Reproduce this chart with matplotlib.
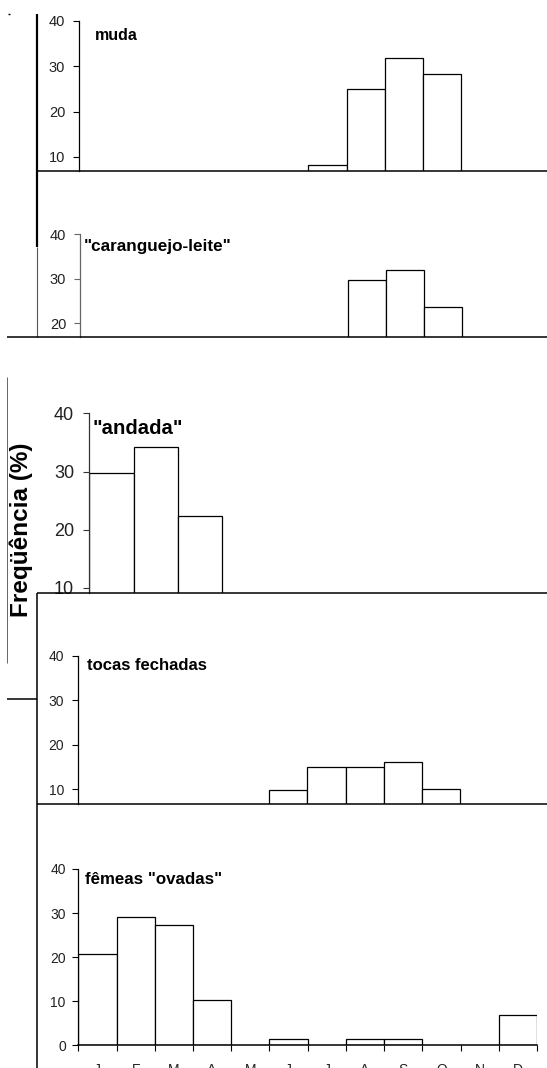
import numpy as np
import matplotlib
matplotlib.use("Agg")
import matplotlib.pyplot as plt
from matplotlib.lines import Line2D

# ---------------- data ----------------
months = ["J", "F", "M", "A", "M", "J", "J", "A", "S", "O", "N", "D"]
muda = [0, 0, 0, 0, 0, 0, 8.3, 24.9, 31.7, 28.3, 0, 0]
caranguejo_leite = [0, 0, 0, 0, 0, 0, 0, 29.8, 32.0, 23.6, 0, 0]
andada = [29.8, 34.2, 22.3, 0, 0, 0, 0, 0, 0, 0, 0, 0]
tocas_fechadas = [0, 0, 0, 0, 0, 9.9, 14.9, 14.9, 16.2, 10.0, 0, 0]
femeas_ovadas = [20.7, 29.2, 27.4, 10.2, 0, 1.5, 0, 1.5, 1.5, 0, 0, 6.8]

titles = ["muda", '"caranguejo-leite"', '"andada"', "tocas fechadas", 'fêmeas "ovadas"']

plt.rcParams['font.family'] = ['Liberation Sans', 'DejaVu Sans']

W, H = 547, 1068
fig = plt.figure(figsize=(W / 100, H / 100), dpi=100)
fig.patch.set_facecolor("white")


def px_axes(x0, y_top, x1, y_bot):
    return fig.add_axes([x0 / W, 1 - y_bot / H, (x1 - x0) / W, (y_bot - y_top) / H])


def fline(xs, ys, lw=1.1, color="black"):
    fig.add_artist(Line2D([x / W for x in xs], [1 - y / H for y in ys],
                          transform=fig.transFigure, lw=lw, color=color,
                          solid_capstyle="butt"))


def panel(vals, x0, mw, y_top, y_bot, ymin, yticks, tfs, pad, spine_color="black",
          zorder=1):
    ax = px_axes(x0, y_top, x0 + 12 * mw, y_bot)
    ax.set_zorder(zorder)
    ax.patch.set_alpha(0)
    x = np.arange(12)
    v = np.array(vals, dtype=float)
    m = v > 0
    ax.bar(x[m], v[m], width=1.0, align="edge", color="white",
           edgecolor="black", linewidth=0.9)
    ax.set_xlim(0, 12)
    ax.set_ylim(ymin, 40)
    for s in ["top", "right", "bottom"]:
        ax.spines[s].set_visible(False)
    ax.spines["left"].set_color(spine_color)
    ax.spines["left"].set_linewidth(0.9)
    ax.set_xticks([])
    ax.set_yticks(yticks)
    ax.tick_params(axis="y", length=4, width=0.8, pad=pad, labelsize=tfs,
                   colors="#222222")
    ax.tick_params(axis="y", color=spine_color)
    return ax


# muda
panel(muda, 78.5, 38.3, 20.7, 171.0, 6.9, [10, 20, 30, 40], 10.5, 5.5)
# caranguejo-leite
panel(caranguejo_leite, 79.5, 38.3, 234.3, 337.3, 16.85, [20, 30, 40], 10.5, 5.5,
      spine_color="#666666")
# andada
panel(andada, 89.3, 44.3, 413.3, 592.7, 9.18, [10, 20, 30, 40], 13, 7,
      spine_color="#333333")
# tocas fechadas
panel(tocas_fechadas, 77.5, 38.3, 655.7, 804.3, 6.6, [10, 20, 30, 40], 10, 5.5)
# femeas ovadas
ax = panel(femeas_ovadas, 78.3, 38.225, 869.0, 1045.3, 0, [0, 10, 20, 30, 40], 10, 5)
ax.spines["bottom"].set_visible(True)
ax.spines["bottom"].set_linewidth(1.1)
ax.set_ylim(0, 40)
ax.set_xticks(np.arange(13))
ax.set_xticklabels([])
ax.tick_params(axis="x", which="major", length=4, width=0.8, direction="out")
ax.set_xticks(np.arange(12) + 0.5, minor=True)
ax.set_xticklabels(months, minor=True)
ax.tick_params(axis="x", which="minor", length=0, pad=12.5, labelsize=10,
               colors="#222222")

# panel titles
fig.text(95.3 / W, 1 - 36 / H, titles[0], fontsize=11.5, fontweight="bold",
         ha="left", va="center")
fig.text(83.7 / W, 1 - 246.7 / H, titles[1], fontsize=12.3, fontweight="bold",
         ha="left", va="center")
fig.text(92.8 / W, 1 - 428.3 / H, titles[2], fontsize=14.6, fontweight="bold",
         ha="left", va="center")
fig.text(87.2 / W, 1 - 665 / H, titles[3], fontsize=12, fontweight="bold",
         ha="left", va="center")
fig.text(84.8 / W, 1 - 879 / H, titles[4], fontsize=12.2, fontweight="bold",
         ha="left", va="center")

# y label
fig.text(21 / W, 1 - 530 / H, "Freqüência (%)", rotation=90, fontsize=17.5,
         fontweight="bold", ha="center", va="center")

# frame / separator lines of the composite
fline([36.6, 36.6], [14, 247], lw=1.6)
fline([37, 37], [247, 337.3], lw=0.8, color="#555555")
fline([36.6, 547], [171, 171], lw=1.1)
fline([7, 547], [337.3, 337.3], lw=1.1)
fline([7, 7], [376.7, 663.3], lw=0.7, color="#666666")
# white cover for the lower part of "andada"
fig.add_artist(plt.Rectangle((36.6 / W, 0), 1 - 36.6 / W, 1 - 592.7 / H,
                             transform=fig.transFigure, facecolor="white",
                             edgecolor="none", zorder=0.5))
fline([36.6, 547], [592.7, 592.7], lw=1.1)
fline([7, 36.6], [698.7, 698.7], lw=1.1)
fline([36.6, 547], [804.3, 804.3], lw=1.1)
fline([36.6, 36.6], [592.7, 1068], lw=1.1)
fline([8, 9.5], [14, 14], lw=1.0)

fig.savefig("out.png", dpi=100, facecolor="white")
